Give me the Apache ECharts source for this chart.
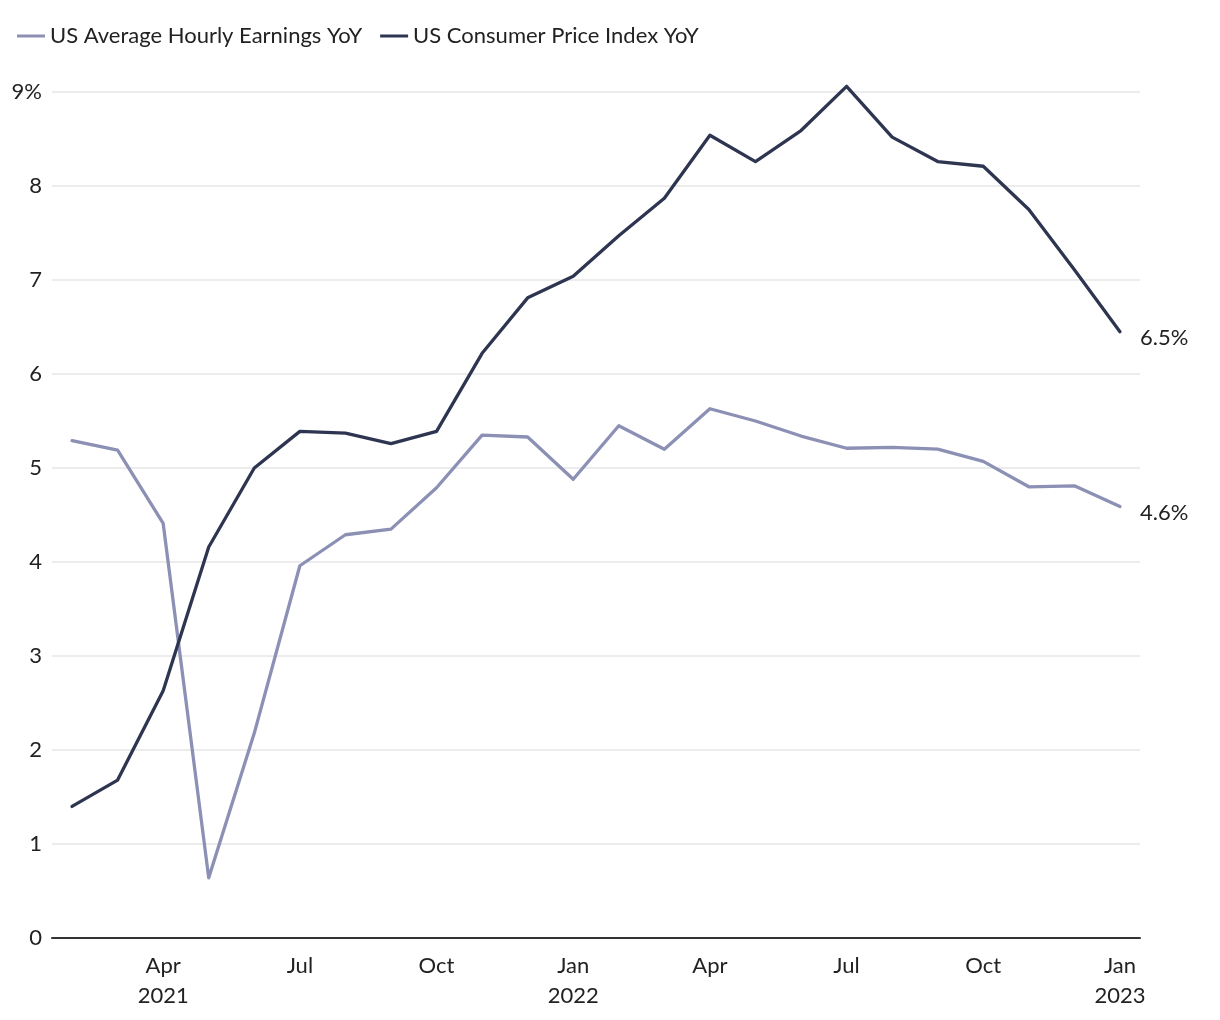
<!DOCTYPE html>
<html>
<head>
<meta charset="utf-8">
<script src="https://cdn.jsdelivr.net/npm/echarts@6/dist/echarts.min.js"></script>
<style>
html,body{margin:0;padding:0;background:#fff;}
#chart{width:1220px;height:1020px;}
</style>
</head>
<body>
<div id="chart"></div>
<script>
// Months Jan 2021 .. Dec 2022 (plotted at month end)
const months = ['2021-01','2021-02','2021-03','2021-04','2021-05','2021-06','2021-07','2021-08','2021-09','2021-10','2021-11','2021-12',
                '2022-01','2022-02','2022-03','2022-04','2022-05','2022-06','2022-07','2022-08','2022-09','2022-10','2022-11','2022-12'];
const earnings = [5.29,5.19,4.41,0.64,2.18,3.96,4.29,4.35,4.79,5.35,5.33,4.88,5.45,5.20,5.63,5.50,5.34,5.21,5.22,5.20,5.07,4.80,4.81,4.59];
const cpi = [1.40,1.68,2.63,4.16,5.00,5.39,5.37,5.26,5.39,6.22,6.81,7.04,7.47,7.87,8.54,8.26,8.59,9.06,8.52,8.26,8.21,7.75,7.11,6.45];
// x-axis ticks (month offsets from Jan 2021 start) and their labels
const tickValues = [3,6,9,12,15,18,21,24];
const tickLabels = ['Apr\n2021','Jul','Oct','Jan\n2022','Apr','Jul','Oct','Jan\n2023'];
const seriesNames = ['US Average Hourly Earnings YoY','US Consumer Price Index YoY'];
const colors = ['#8b90b4','#2e3550'];

const toPairs = arr => arr.map((v,i)=>[i+1, v]);
const FONT = 'Lato';
const FS = 22;

const chart = echarts.init(document.getElementById('chart'));
const mkSeries = (name, data, color) => ({
  name, type:'line', data: toPairs(data), symbol:'none', clip:false,
  lineStyle:{color, width:3.3, cap:'round', join:'round'},
  itemStyle:{color},
  endLabel:{show:true, formatter: p => p.value[1].toFixed(1)+'%', color:'#222', fontSize:FS, fontFamily:FONT, distance:20, offset:[0,6]},
  emphasis:{disabled:true}
});
chart.setOption({
  animation:false,
  textStyle:{fontFamily:FONT},
  color: colors,
  legend:{
    left:12, top:20, itemWidth:28, itemHeight:3, itemGap:18,
    icon:'rect',
    textStyle:{fontSize:FS, color:'#222', fontFamily:FONT, padding:[0,0,0,0]},
    data: seriesNames
  },
  grid:{left:52, right:80, top:92, bottom:82},
  xAxis:{
    type:'value', min:0.56, max:24.44,
    axisLine:{show:true, lineStyle:{color:'#333', width:2}},
    axisTick:{show:false},
    splitLine:{show:false},
    axisLabel:{
      customValues: tickValues,
      formatter: v => tickLabels[tickValues.indexOf(Math.round(v))] || '',
      color:'#222', fontSize:FS, lineHeight:30, margin:13, fontFamily:FONT
    }
  },
  yAxis:{
    type:'value', min:0, max:9, interval:1,
    axisLine:{show:false}, axisTick:{show:false},
    splitLine:{lineStyle:{color:'#e6e6e6', width:1.5}},
    axisLabel:{formatter: v => v===9 ? '9%' : String(v), color:'#222', fontSize:FS, margin:10, fontFamily:FONT}
  },
  series:[
    mkSeries(seriesNames[0], earnings, colors[0]),
    mkSeries(seriesNames[1], cpi, colors[1])
  ]
});
</script>
</body>
</html>
